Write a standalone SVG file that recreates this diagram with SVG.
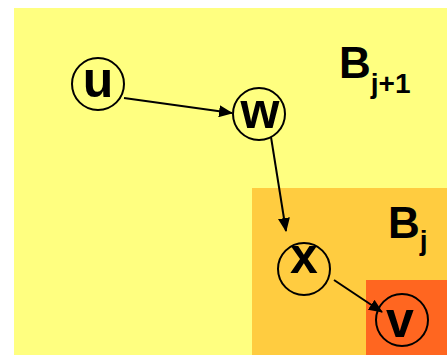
<svg xmlns="http://www.w3.org/2000/svg" width="447" height="356" viewBox="0 0 447 356">
  <style>
    .node circle { fill: none; stroke: #000; stroke-width: 2; }
    .node text { font-family: "Liberation Sans", Arial, sans-serif; font-weight: bold; font-size: 50px; text-anchor: middle; fill: #000; }
    .edge { stroke: #000; stroke-width: 2; fill: none; marker-end: url(#arrow); }
    .lbl { font-family: "Liberation Sans", Arial, sans-serif; font-weight: bold; fill: #000; }
  </style>
  <defs>
    <marker id="arrow" viewBox="0 0 14 12" refX="13" refY="6" markerWidth="14" markerHeight="12" markerUnits="userSpaceOnUse" orient="auto">
      <path d="M0,0 L14,6 L0,12 Z" fill="#000"/>
    </marker>
  </defs>
  <rect x="0" y="0" width="447" height="356" fill="#fff"/>
  <!-- nested regions -->
  <rect x="14" y="8" width="433" height="347" fill="#ffff80"/>
  <rect x="252" y="188" width="195" height="167" fill="#ffcc40"/>
  <rect x="366" y="280" width="81" height="75" fill="#ff6620"/>
  <text class="lbl" x="339" y="78" font-size="44">B<tspan font-size="28" dy="15">j+1</tspan></text>
  <text class="lbl" x="388" y="238" font-size="44">B<tspan font-size="28" dy="12">j</tspan></text>
  <g id="connectors">
    <line class="edge" x1="124" y1="98" x2="232" y2="113"/>
    <line class="edge" x1="271" y1="137" x2="286" y2="231"/>
    <line class="edge" x1="334" y1="280" x2="382" y2="312"/>
  </g>
  <g id="node-u" class="node"><circle cx="98" cy="84" r="26"/><text x="98" y="97">u</text></g>
  <g id="node-w" class="node"><circle cx="259" cy="114" r="26"/><text x="260" y="128">w</text></g>
  <g id="node-x" class="node"><circle cx="304" cy="269" r="26"/><text x="304" y="273">x</text></g>
  <g id="node-v" class="node"><circle cx="402" cy="320" r="26"/><text x="400" y="337">v</text></g>
</svg>
